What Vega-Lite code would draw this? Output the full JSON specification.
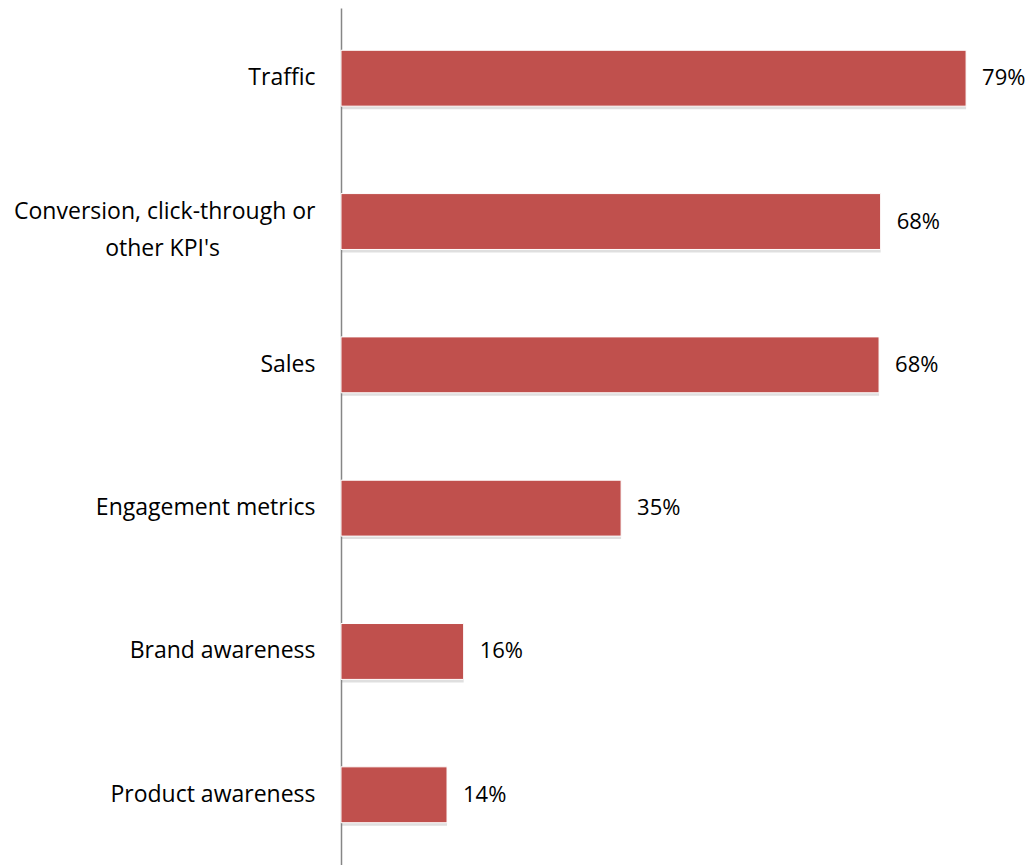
{
  "$schema": "https://vega.github.io/schema/vega-lite/v6.json",
  "autosize": {"type": "none"},
  "padding": {"left": 341, "top": 8, "right": 56, "bottom": 0},
  "width": 633,
  "height": 857,
  "background": "white",
  "config": {"view": {"stroke": null}, "font": "Open Sans"},
  "data": {
    "values": [
      {"category": "Traffic", "value": 79.0, "label": "79%"},
      {"category": "Conversion, click-through or|other KPI's", "value": 68.2, "label": "68%"},
      {"category": "Sales", "value": 68.0, "label": "68%"},
      {"category": "Engagement metrics", "value": 35.4, "label": "35%"},
      {"category": "Brand awareness", "value": 15.5, "label": "16%"},
      {"category": "Product awareness", "value": 13.4, "label": "14%"}
    ]
  },
  "encoding": {
    "y": {
      "field": "category",
      "type": "nominal",
      "sort": null,
      "scale": {"paddingInner": 0.61, "paddingOuter": 0.295},
      "axis": {
        "title": null,
        "ticks": false,
        "tickSize": 0,
        "labelPadding": 26,
        "labelFontSize": 23,
        "labelColor": "#000000",
        "labelFont": "Open Sans",
        "labelLimit": 500,
        "labelExpr": "indexof(datum.label, '|') >= 0 ? [split(datum.label, '|')[0], split(datum.label, '|')[1] + '\u00a0\u00a0\u00a0\u00a0\u00a0\u00a0\u00a0\u00a0\u00a0\u00a0\u00a0\u00a0\u00a0\u00a0\u00a0\u00a0\u200d'] : datum.label",
        "labelOffset": {"condition": {"test": "indexof(datum.label, '|') >= 0", "value": -10}, "value": 0},
        "labelLineHeight": 37,
        "domainColor": "#868686",
        "domainWidth": 1.5,
        "grid": false
      }
    },
    "x": {
      "field": "value",
      "type": "quantitative",
      "scale": {"domain": [0, 80], "nice": false},
      "axis": null
    }
  },
  "layer": [
    {
      "mark": {"type": "bar", "color": "#7f7f7f", "opacity": 0.25, "x2Offset": 3, "yOffset": 3}
    },
    {
      "mark": {"type": "bar", "color": "#C0504D", "stroke": "white", "strokeWidth": 1}
    },
    {
      "mark": {"type": "text", "align": "left", "baseline": "middle", "dx": 16, "fontSize": 22, "font": "Open Sans", "color": "#000000"},
      "encoding": {"text": {"field": "label"}}
    }
  ]
}
